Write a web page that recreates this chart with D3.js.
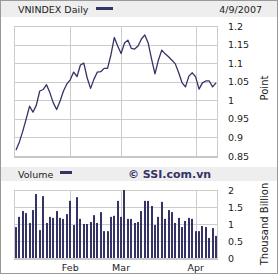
<!DOCTYPE html>
<html>
<head>
<meta charset="utf-8">
<script src="https://cdn.jsdelivr.net/npm/d3@7"></script>
<style>
    body { margin: 0; background: #fff; }
    svg { display: block; }
    text { font-family: "DejaVu Sans", Verdana, sans-serif; fill: #222; }
</style>
</head>
<body>
<div id="chart"></div>
<script>
// trading days Jan 10 .. Apr 9 2007, one entry per session
const vnIndex = [0.866, 0.888, 0.917, 0.950, 0.984, 0.968, 0.987, 1.025, 1.029, 1.042,
                 1.020, 0.993, 0.975, 0.998, 1.025, 1.044, 1.055, 1.076, 1.064, 1.095,
                 1.100, 1.060, 1.032, 1.057, 1.076, 1.077, 1.086, 1.086, 1.122, 1.169,
                 1.146, 1.126, 1.154, 1.162, 1.140, 1.138, 1.146, 1.165, 1.176, 1.154,
                 1.111, 1.071, 1.108, 1.135, 1.125, 1.117, 1.108, 1.098, 1.074, 1.047,
                 1.036, 1.065, 1.074, 1.063, 1.030, 1.047, 1.052, 1.052, 1.036, 1.047];
const volumes = [0.91, 1.21, 1.38, 1.32, 1.03, 1.41, 1.88, 0.82, 1.82, 1.03,
                 1.21, 1.18, 1.38, 1.18, 1.15, 1.29, 1.68, 0.97, 1.79, 1.15,
                 1.00, 1.00, 1.06, 1.26, 1.03, 1.35, 0.79, 0.79, 1.21, 1.24,
                 1.68, 1.21, 2.00, 1.15, 1.15, 1.03, 1.06, 1.38, 1.68, 1.68,
                 1.53, 0.97, 1.21, 1.65, 1.15, 1.41, 1.35, 1.03, 1.18, 0.91,
                 1.09, 1.18, 1.15, 0.79, 0.79, 0.94, 0.91, 0.59, 0.88, 0.65];
const monthLabels = ["Feb", "Mar", "Apr"];
const monthStarts = [16, 31, 53];   // index of first session of each month
const priceTicks = [0.85, 0.9, 0.95, 1, 1.05, 1.1, 1.15, 1.2];
const volumeTicks = [0, 0.5, 1, 1.5, 2];

const W = 278, H = 274;
const navy = "#333366";
const grid = "#cccccc";
const band = "#eeeeee";

const svg = d3.select("#chart").append("svg")
    .attr("width", W)
    .attr("height", H);

// outer frame
svg.append("rect")
    .attr("x", 0.5).attr("y", 0.5)
    .attr("width", W - 1).attr("height", H - 1)
    .attr("fill", "#fff")
    .attr("stroke", "#999");

// header bands
function headerBand(y, h) {
    svg.append("rect")
        .attr("x", 1).attr("y", y)
        .attr("width", W - 2).attr("height", h)
        .attr("fill", band);
}
headerBand(1, 16);
headerBand(167, 14);

svg.append("text").attr("x", 18).attr("y", 12.5)
    .style("font-size", "9.5px").text("VNINDEX Daily");
svg.append("rect").attr("x", 96).attr("y", 7).attr("width", 17).attr("height", 3).attr("fill", navy);
svg.append("text").attr("x", 262).attr("y", 12.5)
    .attr("text-anchor", "end")
    .style("font-size", "9.5px").text("4/9/2007");

svg.append("text").attr("x", 18).attr("y", 177.5)
    .style("font-size", "9.5px").text("Volume");
svg.append("rect").attr("x", 60).attr("y", 171).attr("width", 12).attr("height", 3).attr("fill", navy);
svg.append("text").attr("x", 128).attr("y", 178)
    .style("font-size", "11px").style("font-weight", "bold").style("fill", navy)
    .text("\u00A9 SSI.com.vn");

// shared x scale: one band per trading session
const left = 15, right = 217;
const x = d3.scaleBand()
    .domain(d3.range(volumes.length))
    .range([left, right])
    .paddingInner(0.4)
    .paddingOuter(0);

const yPrice = d3.scaleLinear().domain([0.85, 1.2]).range([156, 26]);
const yVol = d3.scaleLinear().domain([0, 2]).range([258, 190]);

function panel(yScale, ticks) {
    const [bottom, top] = yScale.range();
    const g = svg.append("g");
    g.selectAll(".hgrid")
        .data(ticks.slice(1))
        .enter().append("line")
        .attr("x1", left).attr("x2", right)
        .attr("y1", (d) => Math.round(yScale(d)) + 0.5)
        .attr("y2", (d) => Math.round(yScale(d)) + 0.5)
        .attr("stroke", grid);
    g.selectAll(".vgrid")
        .data(monthStarts.concat([null]))
        .enter().append("line")
        .attr("x1", (d) => d === null ? right + 0.5 : Math.round(x(d) + x.bandwidth() / 2) + 0.5)
        .attr("x2", (d) => d === null ? right + 0.5 : Math.round(x(d) + x.bandwidth() / 2) + 0.5)
        .attr("y1", top).attr("y2", bottom)
        .attr("stroke", grid);
    // left and bottom edges
    g.append("line")
        .attr("x1", left - 0.5).attr("x2", left - 0.5)
        .attr("y1", top).attr("y2", bottom)
        .attr("stroke", grid);
    g.append("line")
        .attr("x1", left - 1).attr("x2", right + 1)
        .attr("y1", bottom + 1).attr("y2", bottom + 1)
        .attr("stroke", "#c8c8c8").attr("stroke-width", 2);

    const axis = g.append("g")
        .attr("transform", "translate(" + right + ",0)")
        .call(d3.axisRight(yScale).tickValues(ticks).tickSize(0).tickPadding(11).tickFormat((d) => d));
    axis.select(".domain").remove();
    axis.selectAll("text")
        .attr("font-family", null)
        .style("font-size", "9.5px")
        .style("fill", "#222");
    return g;
}

panel(yPrice, priceTicks);
panel(yVol, volumeTicks);

// price line
const line = d3.line()
    .x((d, i) => x(i) + x.bandwidth() / 2)
    .y((d) => yPrice(d));
svg.append("path")
    .datum(vnIndex)
    .attr("d", line)
    .attr("fill", "none")
    .attr("stroke", navy)
    .attr("stroke-width", 1.3)
    .attr("stroke-linejoin", "round");

// volume bars
svg.selectAll(".bar")
    .data(volumes)
    .enter().append("rect")
    .attr("class", "bar")
    .attr("x", (d, i) => Math.round(x(i)))
    .attr("y", (d) => yVol(d))
    .attr("width", 2)
    .attr("height", (d) => yVol(0) - yVol(d))
    .attr("fill", navy);

// month labels
const months = svg.append("g")
    .attr("transform", "translate(0,264)")
    .call(d3.axisBottom(x).tickValues(monthStarts).tickSize(0).tickPadding(0)
        .tickFormat((d) => monthLabels[monthStarts.indexOf(d)]));
months.select(".domain").remove();
months.selectAll("text")
    .attr("font-family", null)
    .attr("dy", "0.71em")
    .style("font-size", "9.5px")
    .style("fill", "#222");

// rotated unit labels
svg.append("text")
    .attr("transform", "translate(268,88) rotate(-90)")
    .attr("text-anchor", "middle")
    .style("font-size", "10px")
    .text("Point");
svg.append("text")
    .attr("transform", "translate(268,224) rotate(-90)")
    .attr("text-anchor", "middle")
    .style("font-size", "10px")
    .text("Thousand Billion");
</script>
</body>
</html>
